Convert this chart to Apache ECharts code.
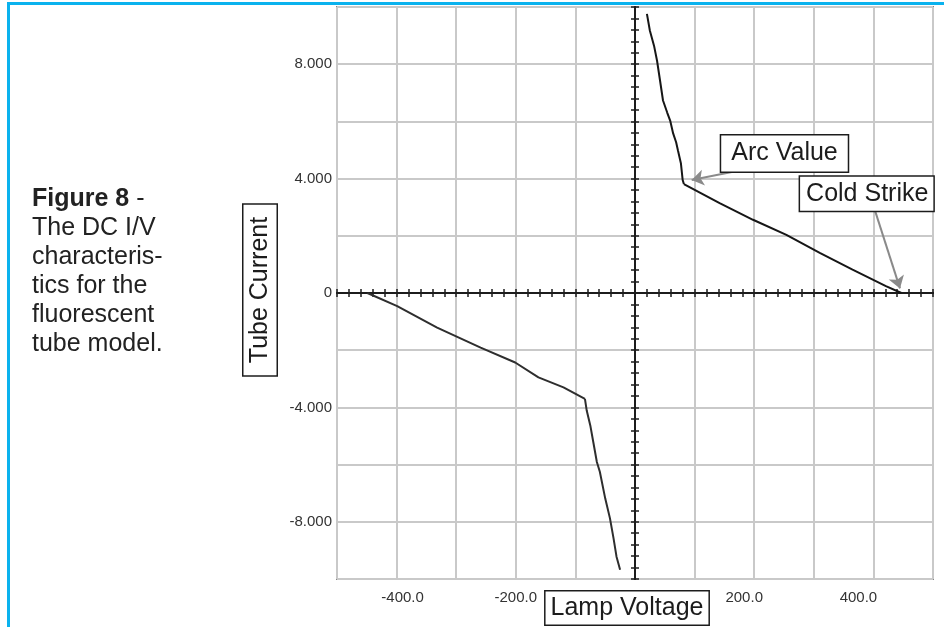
<!DOCTYPE html>
<html>
<head>
<meta charset="utf-8">
<title>DC I/V characteristics of the fluorescent tube model</title>
<script src="https://cdn.jsdelivr.net/npm/echarts@6/dist/echarts.min.js"></script>
<style>
  html, body { margin: 0; padding: 0; background: #ffffff; }
  #chart { width: 944px; height: 627px; }
</style>
</head>
<body>
<div id="chart"></div>
<script>
// Positive branch: steep arc region, then the glow region down to the strike voltage
const posSteepVoltage = [20, 25, 32, 37, 42, 47, 54, 59, 64, 69, 72, 77, 80, 82];
const posSteepCurrent = [9.76, 9.17, 8.64, 8.12, 7.43, 6.73, 6.31, 6.03, 5.58, 5.27, 4.99, 4.54, 3.95, 3.81];
const posGlowVoltage = [82, 142, 198, 254, 310, 365, 421, 447];
const posGlowCurrent = [3.81, 3.14, 2.56, 2.03, 1.40, 0.82, 0.24, 0.0];

// Negative branch: glow region from the negative strike voltage, then the steep arc region
const negGlowVoltage = [-449, -399, -332, -259, -201, -162, -120, -84];
const negGlowCurrent = [0.0, -0.46, -1.21, -1.91, -2.43, -2.95, -3.30, -3.70];
const negSteepVoltage = [-84, -81, -75, -70, -64, -59, -50, -42, -36, -31, -25];
const negSteepCurrent = [-3.70, -4.11, -4.63, -5.21, -5.91, -6.25, -7.18, -7.88, -8.58, -9.22, -9.68];

// Labelled ticks on each axis
const xTickLabels = [-400, -200, 200, 400];
const yTickLabels = [-8, -4, 0, 4, 8];

const FONT = '"Liberation Sans", Arial, Helvetica, sans-serif';
const INK = '#1c1c1c';
const GRID_GRAY = '#c9c9c9';

// Horizontal nudges for the voltage labels (rich-text style per label)
const xLabelStyle = { '-400': 'r6', '-200': 'c0', '200': 'l10', '400': 'l15' };
const xLabelText = { fontFamily: FONT, fontSize: 15, color: '#333333' };
const xLabelRich = {
  c0: Object.assign({}, xLabelText),
  r6: Object.assign({ padding: [0, 0, 0, 12] }, xLabelText),
  l10: Object.assign({ padding: [0, 20, 0, 0] }, xLabelText),
  l15: Object.assign({ padding: [0, 30, 0, 0] }, xLabelText)
};

function pairs(xs, ys) {
  return xs.map(function (x, i) { return [x, ys[i]]; });
}

const xRange = { min: -500, max: 500 };
const yRange = { min: -10, max: 10 };

// Heavy zero lines with ticks crossing them (one axis draws the outward half, one the inward half)
function zeroAxis(extra, interval, inside) {
  return Object.assign({
    type: 'value',
    interval: interval,
    axisLine: { show: true, onZero: true, onZeroAxisIndex: 0, lineStyle: { color: INK, width: 2 } },
    axisTick: { show: true, inside: inside, length: 4, lineStyle: { color: INK, width: 1.5 } },
    axisLabel: { show: false },
    splitLine: { show: false }
  }, extra);
}

function curve(color, data) {
  return {
    type: 'line',
    xAxisIndex: 0,
    yAxisIndex: 0,
    data: data,
    symbol: 'none',
    showSymbol: false,
    silent: true,
    z: 3,
    lineStyle: { color: color, width: 2 }
  };
}

const chart = echarts.init(document.getElementById('chart'), null, { renderer: 'canvas' });

chart.setOption({
  animation: false,
  backgroundColor: '#ffffff',
  textStyle: { fontFamily: FONT },
  grid: {
    left: 337, right: 11, top: 7, bottom: 48,
    show: true,
    borderColor: '#868686',
    borderWidth: 2,
    containLabel: false,
    outerBoundsMode: 'none'
  },
  xAxis: [
    Object.assign({
      type: 'value',
      position: 'bottom',
      interval: 100,
      axisLine: { show: false, onZero: false },
      axisTick: { show: false },
      splitLine: { show: true, lineStyle: { color: GRID_GRAY, width: 2 } },
      axisLabel: {
        margin: 11,
        fontSize: 15,
        color: '#333333',
        fontFamily: FONT,
        rich: xLabelRich,
        formatter: function (v) {
          const r = Math.round(v);
          if (xTickLabels.indexOf(r) < 0) return '';
          return '{' + xLabelStyle[String(r)] + '|' + r.toFixed(1) + '}';
        }
      }
    }, xRange),
    zeroAxis(Object.assign({ position: 'bottom' }, xRange), 20, false),
    zeroAxis(Object.assign({ position: 'bottom' }, xRange), 20, true)
  ],
  yAxis: [
    Object.assign({
      type: 'value',
      position: 'left',
      interval: 2,
      axisLine: { show: false, onZero: false },
      axisTick: { show: false },
      splitLine: { show: true, lineStyle: { color: GRID_GRAY, width: 2 } },
      axisLabel: {
        margin: 5,
        fontSize: 15,
        color: '#333333',
        fontFamily: FONT,
        formatter: function (v) {
          const r = Math.round(v * 1000) / 1000;
          if (yTickLabels.indexOf(r) < 0) return '';
          return r === 0 ? '0' : r.toFixed(3);
        }
      }
    }, yRange),
    zeroAxis(Object.assign({ position: 'left' }, yRange), 0.4, false),
    zeroAxis(Object.assign({ position: 'left' }, yRange), 0.4, true)
  ],
  series: [
    curve('#161616', pairs(posSteepVoltage, posSteepCurrent)),
    Object.assign(curve('#161616', pairs(posGlowVoltage, posGlowCurrent)), {
      markLine: {
        silent: true,
        animation: false,
        symbol: ['none', 'arrow'],
        symbolSize: 12,
        label: { show: false },
        lineStyle: { color: '#8a8a8a', width: 2, type: 'solid' },
        data: [
          [{ coord: [164.4, 4.24] }, { coord: [95.1, 3.95] }],
          [{ coord: [402.7, 2.88] }, { coord: [444.6, 0.16] }]
        ]
      },
      markPoint: {
        silent: true,
        animation: false,
        symbol: 'rect',
        symbolSize: 1,
        itemStyle: { color: 'rgba(0,0,0,0)' },
        label: {
          show: true,
          position: 'inside',
          formatter: '{b}',
          fontFamily: FONT,
          fontSize: 25,
          lineHeight: 27,
          color: INK,
          backgroundColor: '#ffffff',
          borderColor: INK,
          borderWidth: 1.5,
          padding: [5, 10, 4, 10]
        },
        data: [
          { name: 'Arc Value', coord: [250.8, 4.88] },
          { name: 'Cold Strike', coord: [388.8, 3.47], label: { padding: [4, 5, 3, 6] } }
        ]
      }
    }),
    curve('#2e2e2e', pairs(negGlowVoltage, negGlowCurrent)),
    curve('#2e2e2e', pairs(negSteepVoltage, negSteepCurrent))
  ],
  graphic: [
    // page frame
    { type: 'rect', silent: true, shape: { x: 7, y: 2, width: 937, height: 3 }, style: { fill: '#0ab2ee' } },
    { type: 'rect', silent: true, shape: { x: 7, y: 2, width: 3, height: 625 }, style: { fill: '#0ab2ee' } },
    // caption
    {
      type: 'text', silent: true, x: 32, y: 185,
      style: {
        text: '{b|Figure 8} -\nThe DC I/V\ncharacteris-\ntics for the\nfluorescent\ntube model.',
        fontFamily: FONT, fontSize: 25, lineHeight: 29, fill: '#222222',
        rich: { b: { fontFamily: FONT, fontSize: 25, lineHeight: 29, fontWeight: 'bold', fill: '#222222' } }
      }
    },
    // axis titles
    {
      type: 'text', silent: true, x: 260, y: 290, rotation: Math.PI / 2,
      style: {
        text: 'Tube Current', fontFamily: FONT, fontSize: 25, lineHeight: 26, fill: INK,
        align: 'center', verticalAlign: 'middle',
        backgroundColor: '#ffffff', borderColor: INK, borderWidth: 1.5, padding: [4, 12, 3, 12]
      }
    },
    {
      type: 'text', silent: true, x: 627, y: 608,
      style: {
        text: 'Lamp Voltage', fontFamily: FONT, fontSize: 25, lineHeight: 26, fill: INK,
        align: 'center', verticalAlign: 'middle',
        backgroundColor: '#ffffff', borderColor: INK, borderWidth: 1.5, padding: [4, 5, 3, 5]
      }
    }
  ]
});
</script>
</body>
</html>
